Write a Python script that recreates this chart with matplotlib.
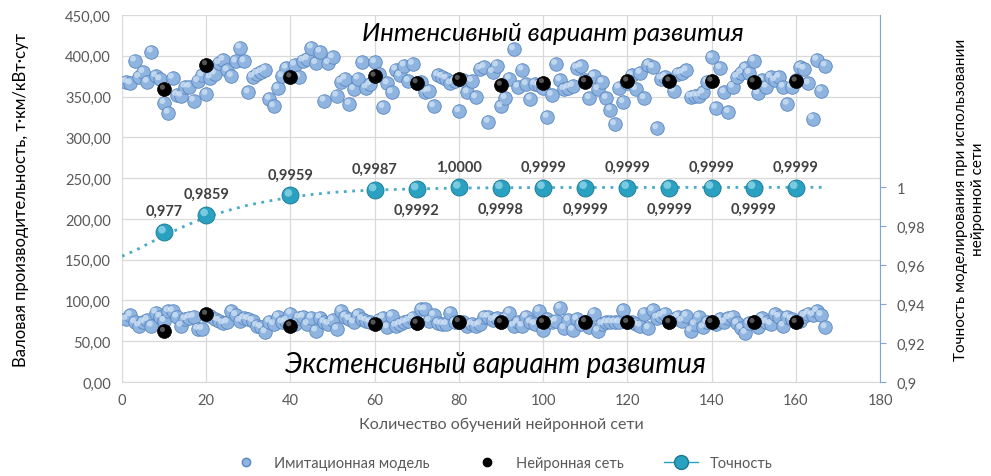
import matplotlib
matplotlib.use("Agg")
import matplotlib.pyplot as plt
from matplotlib.ticker import FuncFormatter, MultipleLocator
from matplotlib.lines import Line2D
import numpy as np

plt.rcParams['font.family'] = ['Lato', 'DejaVu Sans']

# --- data -------------------------------------------------------------
sim_x = np.arange(1, 168)
sim_high = [368, 366, 394, 374, 380, 368, 405, 375, 371, 342,
            330, 373, 352, 351, 362, 362, 345, 369, 376, 353,
            373, 378, 391, 395, 382, 375, 393, 410, 393, 355,
            374, 378, 380, 383, 347, 338, 360, 375, 385, 375,
            389, 374, 394, 396, 410, 391, 405, 345, 391, 398,
            351, 368, 372, 341, 359, 372, 392, 361, 365, 392,
            378, 337, 366, 355, 383, 376, 388, 369, 390, 367,
            368, 356, 357, 338, 376, 374, 372, 366, 369, 332,
            370, 355, 369, 349, 384, 386, 319, 380, 388, 338,
            348, 372, 408, 362, 383, 365, 347, 365, 364, 360,
            325, 352, 390, 370, 359, 361, 363, 385, 387, 370,
            348, 375, 359, 368, 348, 334, 316, 361, 343, 366,
            376, 359, 379, 348, 389, 386, 311, 372, 374, 370,
            357, 378, 379, 382, 350, 351, 351, 355, 368, 398,
            336, 385, 355, 331, 362, 374, 379, 385, 379, 394,
            354, 370, 362, 374, 370, 374, 362, 341, 362, 370,
            386, 384, 366, 323, 395, 357, 388]
sim_low = [77, 82, 73, 69, 73, 76, 69, 85, 80, 75,
           87, 87, 80, 69, 77, 79, 80, 65, 65, 82,
           81, 77, 75, 72, 73, 87, 82, 75, 78, 77,
           75, 69, 67, 61, 74, 71, 80, 73, 75, 84,
           71, 79, 80, 71, 79, 63, 79, 73, 71, 76,
           65, 87, 80, 77, 73, 82, 77, 75, 73, 72,
           76, 79, 67, 81, 69, 71, 73, 75, 79, 72,
           89, 89, 75, 82, 72, 71, 71, 85, 73, 74,
           73, 69, 71, 69, 71, 80, 80, 76, 78, 73,
           78, 85, 69, 73, 69, 80, 73, 71, 87, 64,
           77, 73, 75, 91, 66, 76, 64, 77, 71, 74,
           67, 84, 63, 71, 73, 73, 73, 73, 88, 73,
           73, 71, 69, 84, 66, 88, 79, 81, 84, 73,
           77, 80, 75, 81, 63, 71, 80, 67, 73, 73,
           71, 77, 73, 78, 80, 72, 66, 60, 72, 73,
           67, 78, 73, 71, 83, 80, 69, 80, 77, 73,
           75, 81, 84, 82, 87, 82, 67]

nn_x = [10, 20, 40, 60, 70, 80, 90, 100, 110, 120, 130, 140, 150, 160]
nn_high = [359, 389, 374, 375, 367, 371, 364, 367, 368, 369, 369, 369, 368, 369]
nn_low = [62, 83, 69, 71, 72, 74, 73, 73, 74, 73, 73, 73, 73, 73]

acc = [0.977, 0.9859, 0.9959, 0.9987, 0.9992, 1.0000, 0.9998,
       0.9999, 0.9999, 0.9999, 0.9999, 0.9999, 0.9999, 0.9999]
acc_digits = [3, 4, 4, 4, 4, 4, 4, 4, 4, 4, 4, 4, 4, 4]
acc_label_up = [True, True, True, True, False, True, False,
                True, False, True, False, True, False, True]

# trend line for accuracy
trend_x = [0, 2, 4, 6, 8, 10, 12, 15, 20, 25, 30, 35, 40, 45, 50,
           55, 60, 70, 80, 90, 100, 167]
trend_y = [0.9646, 0.9665, 0.9685, 0.9708, 0.9730, 0.9752, 0.9772, 0.9802,
           0.9847, 0.9880, 0.9909, 0.9930, 0.9949, 0.9963, 0.9974,
           0.9981, 0.9986, 0.9992, 0.9996, 0.9998, 0.9999, 1.0000]

# --- colours ----------------------------------------------------------
SIM_FACE = '#8fb4e0'
SIM_EDGE = '#5a86bf'
ACC_FACE = '#2aa1c0'
ACC_EDGE = '#1a7891'
GRID = '#d9d9d9'
TICK = '#595959'

fig = plt.figure(figsize=(9.91, 4.77), dpi=100)
ax = fig.add_axes([0.1231, 0.197, 0.888 - 0.1231, 0.9665 - 0.197])
ax2 = ax.twinx()

for ys in (sim_high, sim_low):
    ax.scatter(sim_x, ys, s=95, c=SIM_FACE, edgecolors=SIM_EDGE,
               linewidths=0.6, zorder=3)
    ax.scatter(sim_x - 0.4, np.array(ys) + 2.5, s=18, c='#d6e6f7',
               edgecolors='none', alpha=0.7, zorder=3)
for ys in (nn_high, nn_low):
    ax.scatter(nn_x, ys, s=100, c='#000000', edgecolors='#000000',
               linewidths=0.5, zorder=4)
    ax.scatter(np.array(nn_x) - 0.4, np.array(ys) + 2.5, s=14, c='#555555',
               edgecolors='none', zorder=4)

ax.set_xlim(0, 180)
ax.set_ylim(0, 450)
ax.xaxis.set_major_locator(MultipleLocator(20))
ax.yaxis.set_major_locator(MultipleLocator(50))
ax.yaxis.set_major_formatter(FuncFormatter(lambda v, p: f"{v:.2f}".replace('.', ',')))
ax.grid(True, color=GRID, linewidth=0.9, zorder=0)
ax.set_axisbelow(True)
for s in ('top', 'right', 'left'):
    ax.spines[s].set_visible(False)
ax.spines['bottom'].set_color(GRID)
ax.tick_params(axis='both', length=0, colors=TICK, labelsize=10.5)
ax.tick_params(axis='x', pad=8)
ax.tick_params(axis='y', pad=8)

ax.set_xlabel('Количество обучений нейронной сети', fontsize=11.5,
              color=TICK, labelpad=7)
ax.set_ylabel('Валовая производительность, т·км/кВт·сут', fontsize=12,
              color='#000000', labelpad=26)

# secondary axis: accuracy
ax2.set_ylim(0.9, 1.0885)
ax2.set_yticks([0.9, 0.92, 0.94, 0.96, 0.98, 1.0])
ax2.yaxis.set_major_formatter(
    FuncFormatter(lambda v, p: f"{v:.2f}".rstrip('0').rstrip('.').replace('.', ',')))
for s in ('top', 'left', 'bottom'):
    ax2.spines[s].set_visible(False)
ax2.spines['right'].set_color('#7fa6d6')
ax2.tick_params(axis='y', direction='out', length=4, color='#7fa6d6',
                labelcolor=TICK, labelsize=10.5, pad=8)
ax2.set_ylabel('Точность моделирования при использовании\nнейронной сети',
               fontsize=11, color='#000000', labelpad=21, linespacing=1.25)

ax2.plot(trend_x, trend_y, linestyle=(0, (1, 2)), color='#4bacc6',
         linewidth=2, zorder=2)
ax2.scatter(nn_x, acc, s=150, c=ACC_FACE, edgecolors=ACC_EDGE,
            linewidths=0.6, zorder=5)
ax2.scatter(np.array(nn_x) - 0.5, np.array(acc) + 0.0012, s=30, c='#8fd6ea',
            edgecolors='none', alpha=0.8, zorder=5)

for x, v, d, up in zip(nn_x, acc, acc_digits, acc_label_up):
    txt = f"{v:.{d}f}".replace('.', ',')
    ax2.annotate(txt, (x, v), xytext=(0, 15 if up else -15),
                 textcoords='offset points', ha='center', va='center',
                 fontsize=10.5, fontweight='bold', color='#404040', zorder=6)

ax.text(102.4, 429, 'Интенсивный вариант развития', fontsize=18.5,
        style='italic', ha='center', va='center', color='#000000', zorder=6)
ax.text(88.6, 22, 'Экстенсивный вариант развития', fontsize=20,
        style='italic', ha='center', va='center', color='#000000', zorder=6)

handles = [
    Line2D([], [], linestyle='none', marker='o', markersize=6,
           markerfacecolor=SIM_FACE, markeredgecolor=SIM_EDGE),
    Line2D([], [], linestyle='none', marker='o', markersize=6,
           markerfacecolor='#000000', markeredgecolor='#000000'),
    Line2D([], [], color=ACC_FACE, linewidth=1, marker='o', markersize=10,
           markerfacecolor=ACC_FACE, markeredgecolor=ACC_EDGE),
]
fig.legend(handles, ['Имитационная модель', 'Нейронная сеть', 'Точность'],
           loc='center', bbox_to_anchor=(0.505, 0.028), ncol=3, frameon=False,
           fontsize=10.5, labelcolor=TICK, columnspacing=2.8, handlelength=2.3)

fig.savefig('out.png', dpi=100)
